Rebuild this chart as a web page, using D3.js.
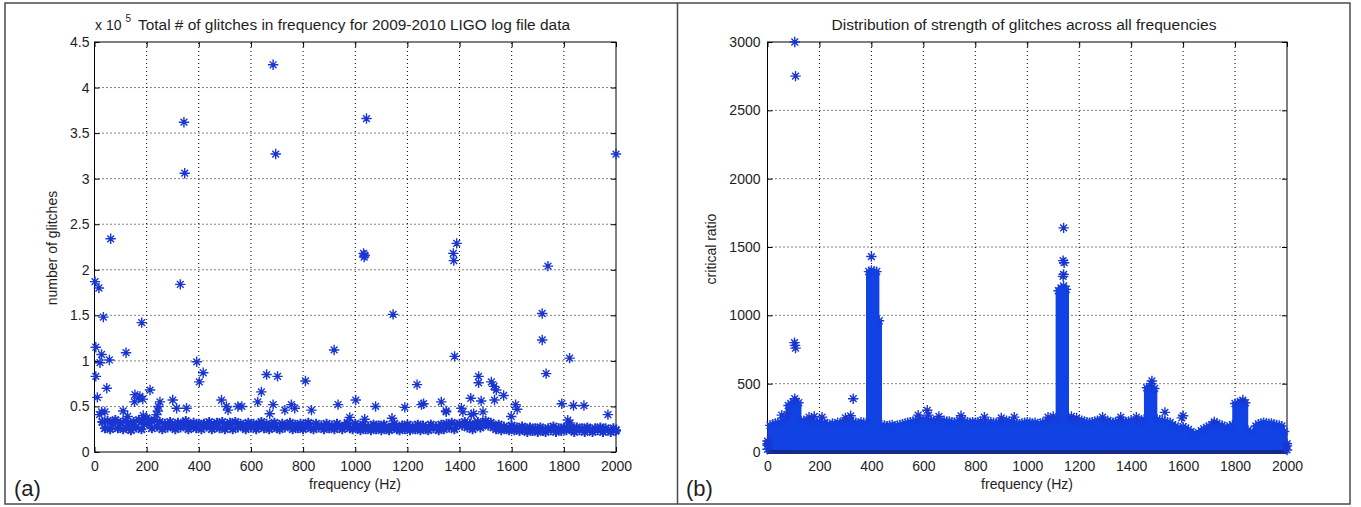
<!DOCTYPE html>
<html><head><meta charset="utf-8">
<script src="https://cdn.jsdelivr.net/npm/d3@7"></script>
<style>
body{margin:0;background:#fff}
svg{display:block}
text{font-family:"Liberation Sans",Arial,Helvetica,sans-serif;fill:#1e1e1e}
</style>
</head><body>
<svg id="c" width="1361" height="507"></svg>
<script>
// ---------------- DATA ----------------
const xTicks = [0,200,400,600,800,1000,1200,1400,1600,1800,2000];
const yTicksA = [0,0.5,1,1.5,2,2.5,3,3.5,4,4.5];          // x 10^5
const yTicksB = [0,500,1000,1500,2000,2500,3000];

// Panel (a): dense band of glitch counts (x10^5), one sample every 10 Hz starting at 30 Hz
const bandStartA = 30, bandStepA = 10;
const bandA = [
 0.33,0.26,0.34,0.25,0.31,0.35,0.26,0.32,
 0.25,0.34,0.29,0.24,0.33,0.27,0.35,0.25,0.31,0.37,
 0.32,0.26,0.35,0.28,0.33,0.25,0.31,0.27,0.33,0.28,
 0.25,0.32,0.27,0.31,0.34,0.25,0.29,0.32,0.26,0.31,
 0.25,0.31,0.28,0.33,0.25,0.29,0.32,0.26,0.33,0.25,
 0.29,0.32,0.25,0.33,0.27,0.31,0.28,0.25,0.32,0.27,
 0.31,0.25,0.29,0.33,0.26,0.31,0.25,0.29,0.32,0.26,
 0.25,0.31,0.27,0.29,0.32,0.25,0.30,0.26,0.31,0.25,
 0.29,0.32,0.26,0.25,0.31,0.27,0.29,0.25,0.31,0.26,
 0.29,0.25,0.31,0.27,0.25,0.29,0.32,0.26,0.25,0.31,
 0.27,0.24,0.30,0.25,0.28,0.24,0.30,0.25,0.29,0.24,
 0.30,0.25,0.24,0.28,0.31,0.25,0.24,0.29,0.25,0.30,
 0.24,0.28,0.25,0.30,0.24,0.29,0.25,0.24,0.30,0.26,
 0.28,0.24,0.30,0.25,0.31,0.27,0.32,0.25,0.30,0.31,
 0.29,0.33,0.27,0.31,0.25,0.30,0.33,0.27,0.31,0.34,
 0.29,0.32,0.27,0.25,0.30,0.24,0.28,0.25,0.24,0.29,
 0.24,0.27,0.23,0.28,0.25,0.22,0.27,0.23,0.26,0.22,
 0.27,0.23,0.22,0.26,0.24,0.28,0.22,0.26,0.23,0.27,
 0.24,0.29,0.25,0.22,0.27,0.24,0.26,0.22,0.27,0.24,
 0.22,0.26,0.24,0.27,0.22,0.26,0.24,0.22,0.26,0.24
];
// Panel (a): individual points [frequency Hz, glitches x10^5]
const outliersA = [
 [685,4.25],[695,3.27],[343,3.62],[346,3.06],[1043,3.66],[2000,3.27],
 [62,2.34],[1032,2.18],[1036,2.16],[1034,2.14],[1389,2.29],[1376,2.18],[1378,2.10],[1739,2.04],
 [2,1.87],[17,1.80],[329,1.84],[34,1.48],[181,1.42],[1145,1.51],[1717,1.52],[1717,1.23],
 [5,1.15],[121,1.09],[919,1.12],[1381,1.05],[1822,1.03],[27,1.07],[21,0.98],[57,1.01],
 [392,0.99],[402,0.77],[417,0.87],[5,0.83],[1732,0.86],[660,0.85],[702,0.83],[809,0.78],
 [1473,0.83],[1473,0.76],[47,0.70],[213,0.68],[640,0.66],[1237,0.74],[1522,0.77],[1532,0.72],[1541,0.68],[1569,0.62],
 [11,0.60],[155,0.63],[168,0.59],[174,0.61],[153,0.55],[185,0.58],[300,0.57],[487,0.57],[506,0.50],[512,0.46],
 [550,0.50],[565,0.50],[626,0.55],[672,0.42],[685,0.52],[730,0.46],[755,0.52],[768,0.48],[832,0.46],[934,0.52],
 [1002,0.57],[1036,0.36],[1078,0.50],[1141,0.37],[1190,0.49],[1254,0.52],[1262,0.53],[1330,0.55],[1349,0.44],
 [1407,0.48],[1413,0.44],[1443,0.59],[1445,0.41],[1454,0.42],[1483,0.56],[1490,0.44],[1534,0.57],[1598,0.39],
 [1615,0.52],[1621,0.47],[1792,0.53],[1815,0.35],[1824,0.32],[1837,0.51],[1877,0.51],[1969,0.41],[1998,0.23],
 [27,0.44],[40,0.44],[19,0.41],[110,0.45],[127,0.39],[245,0.50],[251,0.55],[238,0.41],[243,0.45],[315,0.48],[353,0.48],
 [187,0.40],[979,0.38],[1348,0.45]
];

// Panel (b): upper envelope of critical ratio, one sample every 10 Hz from 0 to 2000 Hz
const envStartB = 0, envStepB = 10;
const envelopeB = [
 60,195,205,210,215,220,225,228,340,355,
 365,372,360,225,230,225,220,230,225,215,
 220,210,215,205,200,210,205,215,210,220,
 215,225,230,220,215,210,220,215,210,1320,
 1330,1325,1320,960,200,195,190,195,200,190,
 195,200,205,210,215,220,225,230,235,240,
 235,240,235,230,225,230,225,220,230,225,
 225,220,215,225,230,235,225,220,215,220,
 215,220,225,215,210,215,220,215,210,215,
 220,225,230,225,220,215,210,205,210,215,
 220,215,210,215,205,210,215,220,225,230,
 225,230,1180,1200,1215,1190,240,235,225,220,
 225,230,225,220,215,220,225,230,225,220,
 225,230,220,215,220,225,230,225,220,225,
 230,225,220,230,235,240,470,475,470,465,
 240,235,230,225,220,215,200,190,180,175,
 185,175,165,150,135,125,140,155,170,180,
 190,200,205,210,200,195,185,175,190,200,
 355,360,365,362,360,160,150,145,190,205,
 210,215,212,208,210,205,200,195,190,150,
 60
];
// Panel (b): individual points [frequency Hz, critical ratio]
const outliersB = [
 [105,3000],[108,2750],[104,800],[106,780],[108,760],[105,390],[330,390],[400,1430],
 [1140,1640],[1138,1400],[1142,1385],[1140,1300],[1138,1285],[1480,520],[1478,500],
 [1530,290],[1600,265],[1595,250],[1720,220],[1830,380],
 [55,270],[75,275],[160,255],[180,260],[210,255],[300,250],[320,265],[580,270],[615,305],
 [620,270],[660,260],[745,265],[835,255],[900,250],[950,255],[1080,255],[1100,260],
 [1170,260],[1190,250],[1290,255],[1360,255],[1420,255],
 [0,20],[0,50],[0,80],[2000,15],[2000,45]
];

// ---------------- DRAW ----------------
const svg = d3.select('#c');
const STAR = '#1a36d0';

function starPath(pts, x, y, a, b) {
  let d = '';
  for (const [f, v] of pts) {
    const cx = x(f), cy = y(v);
    d += `M${cx-a},${cy}h${2*a}M${cx},${cy-a}v${2*a}M${cx-b},${cy-b}l${2*b},${2*b}M${cx-b},${cy+b}l${2*b},${-2*b}`;
  }
  return d;
}

// outer frames
svg.append('rect').attr('x',5).attr('y',3).attr('width',1345).attr('height',501)
  .attr('fill','none').attr('stroke','#4a4a4a').attr('stroke-width',1.5);
svg.append('line').attr('x1',677.5).attr('x2',677.5).attr('y1',3).attr('y2',504)
  .attr('stroke','#4a4a4a').attr('stroke-width',1.5);

function frame(x, y, yTicks, yPad, yFmt) {
  const g = svg.append('g');
  const [x0, x1] = x.range(), [y0, y1] = y.range();
  g.selectAll('.gx').data(xTicks.slice(1, -1)).join('line')
    .attr('x1', d => x(d)).attr('x2', d => x(d)).attr('y1', y0).attr('y2', y1)
    .attr('stroke', '#000').attr('stroke-width', 1).attr('stroke-dasharray', '1,3');
  g.selectAll('.gy').data(yTicks.slice(1, -1)).join('line')
    .attr('y1', d => y(d)).attr('y2', d => y(d)).attr('x1', x0).attr('x2', x1)
    .attr('stroke', '#000').attr('stroke-width', 1).attr('stroke-dasharray', '1,3');
  g.append('rect').attr('x', x0).attr('y', y1).attr('width', x1 - x0).attr('height', y0 - y1)
    .attr('fill', 'none').attr('stroke', '#000').attr('stroke-width', 1);
  const fs = '14px';
  const ax = g.append('g').attr('transform', `translate(0,${y0})`)
    .call(d3.axisBottom(x).tickValues(xTicks).tickSizeInner(-5).tickSizeOuter(0).tickPadding(9).tickFormat(d3.format('d')));
  const at = g.append('g').attr('transform', `translate(0,${y1})`)
    .call(d3.axisTop(x).tickValues(xTicks).tickSizeInner(-5).tickSizeOuter(0).tickFormat(''));
  const ay = g.append('g').attr('transform', `translate(${x0},0)`)
    .call(d3.axisLeft(y).tickValues(yTicks).tickSizeInner(-5).tickSizeOuter(0).tickPadding(yPad).tickFormat(yFmt));
  const ar = g.append('g').attr('transform', `translate(${x1},0)`)
    .call(d3.axisRight(y).tickValues(yTicks).tickSizeInner(-5).tickSizeOuter(0).tickFormat(''));
  for (const a of [ax, at, ay, ar]) {
    a.select('.domain').remove();
    a.selectAll('line').attr('stroke', '#000');
    a.selectAll('text').attr('font-size', fs).attr('font-family', '"Liberation Sans",Arial,sans-serif').attr('fill', '#1e1e1e');
  }
  return g;
}

// ----- Panel (a)
const xA = d3.scaleLinear([0, 2000], [94.5, 616]);
const yA = d3.scaleLinear([0, 4.5], [452, 42]);
frame(xA, yA, yTicksA, 5, d => String(d));
const bandPtsA = bandA.map((v, i) => [bandStartA + i * bandStepA, v]);
svg.append('path').attr('d', starPath(bandPtsA, xA, yA, 5, 3.6))
  .attr('stroke', STAR).attr('stroke-width', 2).attr('fill', 'none');
svg.append('path').attr('d', starPath(outliersA, xA, yA, 5.2, 3.4))
  .attr('stroke', STAR).attr('stroke-width', 1.4).attr('fill', 'none');

svg.append('text').attr('x', 95).attr('y', 30).attr('font-size', '14px').text('x 10');
svg.append('text').attr('x', 125.5).attr('y', 22).attr('font-size', '10px').text('5');
svg.append('text').attr('x', 138).attr('y', 30).attr('font-size', '14px')
  .attr('textLength', 432).attr('lengthAdjust', 'spacingAndGlyphs')
  .text('Total # of glitches in frequency for 2009-2010 LIGO log file data');
svg.append('text').attr('x', 355).attr('y', 489).attr('font-size', '14px').attr('text-anchor', 'middle')
  .text('frequency (Hz)');
svg.append('text').attr('transform', 'translate(57,248) rotate(-90)').attr('font-size', '14px')
  .attr('text-anchor', 'middle').text('number of glitches');
svg.append('text').attr('x', 14).attr('y', 496).attr('font-size', '22px').text('(a)');

// ----- Panel (b)
const xB = d3.scaleLinear([0, 2000], [767.5, 1287]);
const yB = d3.scaleLinear([0, 3000], [452, 42]);
frame(xB, yB, yTicksB, 7, d => String(d));
const envPtsB = envelopeB.map((v, i) => [envStartB + i * envStepB, v]);
svg.append('path').datum(envPtsB)
  .attr('d', d3.area().curve(d3.curveStep).x(d => xB(d[0])).y0(yB(0)).y1(d => yB(d[1])))
  .attr('fill', '#1142e4').attr('stroke', '#1142e4').attr('stroke-width', 3);
svg.append('path').attr('d', starPath(envPtsB, xB, yB, 5, 3.5))
  .attr('stroke', '#1240e0').attr('stroke-width', 1.4).attr('fill', 'none');
svg.append('path').datum(envPtsB)
  .attr('d', d3.line().x(d => xB(d[0])).y(() => yB(0)))
  .attr('stroke', '#172a8c').attr('stroke-width', 4).attr('fill', 'none');
svg.append('path').attr('d', starPath(outliersB, xB, yB, 5.2, 3.4))
  .attr('stroke', STAR).attr('stroke-width', 1.4).attr('fill', 'none');

svg.append('text').attr('x', 1024).attr('y', 30).attr('font-size', '14px').attr('text-anchor', 'middle')
  .attr('textLength', 385).attr('lengthAdjust', 'spacingAndGlyphs')
  .text('Distribution of strength of glitches across all frequencies');
svg.append('text').attr('x', 1027).attr('y', 489).attr('font-size', '14px').attr('text-anchor', 'middle')
  .text('frequency (Hz)');
svg.append('text').attr('transform', 'translate(716,249) rotate(-90)').attr('font-size', '14px')
  .attr('text-anchor', 'middle').text('critical ratio');
svg.append('text').attr('x', 686).attr('y', 496).attr('font-size', '22px').text('(b)');
</script>
</body></html>
